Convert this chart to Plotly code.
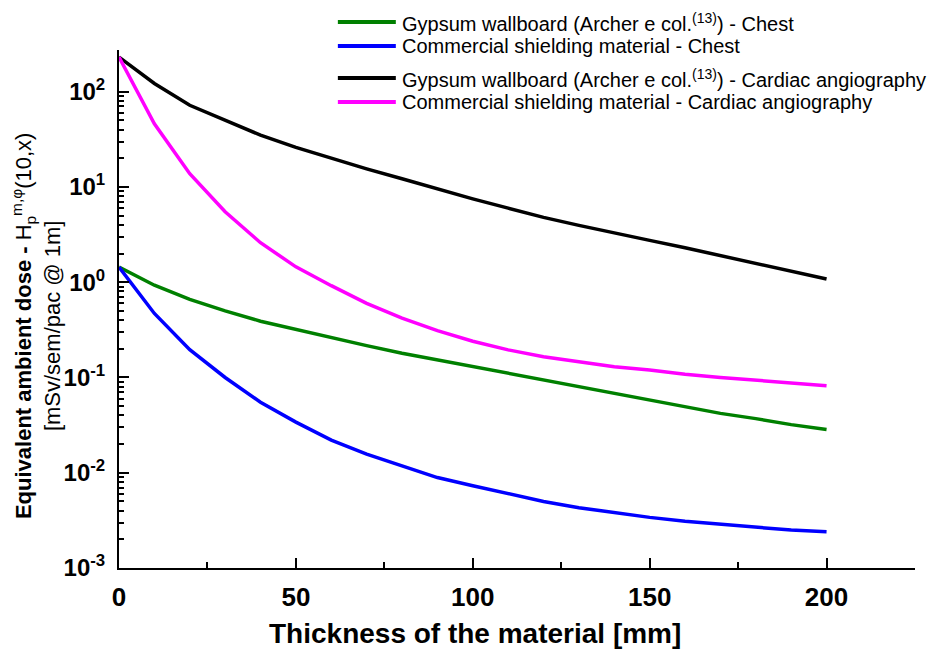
import plotly.graph_objects as go

thickness = [0, 10, 20, 30, 40, 50, 60, 70, 80, 90, 100, 110, 120, 130, 140, 150, 160, 170, 180, 190, 200]

gypsum_chest = [1.44, 0.93, 0.66, 0.50, 0.39, 0.32, 0.26, 0.216, 0.18, 0.153, 0.13, 0.11, 0.094, 0.08, 0.068,
                0.057, 0.049, 0.042, 0.037, 0.032, 0.0285]
commercial_chest = [1.44, 0.47, 0.196, 0.10, 0.055, 0.034, 0.022, 0.0157, 0.0118, 0.0089, 0.0073, 0.006, 0.005,
                    0.0043, 0.0038, 0.0034, 0.0031, 0.0029, 0.0027, 0.0025, 0.0024]
gypsum_cardiac = [231, 122, 72, 50, 35, 26, 20, 15.5, 12.2, 9.5, 7.5, 6.0, 4.8, 3.95, 3.27, 2.75, 2.3, 1.9, 1.58,
                  1.3, 1.08]
commercial_cardiac = [231, 46, 13.8, 5.5, 2.6, 1.45, 0.92, 0.6, 0.42, 0.31, 0.24, 0.195, 0.165, 0.145, 0.13, 0.12,
                      0.108, 0.1, 0.093, 0.087, 0.082]

series_names = [
    "Gypsum wallboard (Archer e col.<sup>(13)</sup>) - Chest",
    "Commercial shielding material - Chest",
    "Gypsum wallboard (Archer e col.<sup>(13)</sup>) - Cardiac angiography",
    "Commercial shielding material - Cardiac angiography",
]
series_values = [gypsum_chest, commercial_chest, gypsum_cardiac, commercial_cardiac]
series_colors = ["#008000", "#0000FF", "#000000", "#FF00FF"]

y_tick_vals = [1e-3, 1e-2, 1e-1, 1e0, 1e1, 1e2]
y_tick_text = ["<b>10<sup>-3</sup></b>", "<b>10<sup>-2</sup></b>", "<b>10<sup>-1</sup></b>",
               "<b>10<sup>0</sup></b>", "<b>10<sup>1</sup></b>", "<b>10<sup>2</sup></b>"]
x_tick_vals = [0, 50, 100, 150, 200]
x_tick_text = ["<b>0</b>", "<b>50</b>", "<b>100</b>", "<b>150</b>", "<b>200</b>"]

FONT = "Arial, Liberation Sans, sans-serif"

fig = go.Figure()
for name, vals, col in zip(series_names, series_values, series_colors):
    fig.add_trace(go.Scatter(x=thickness, y=vals, mode="lines", name=name,
                             line=dict(color=col, width=3.5), showlegend=False))

# pixel -> paper helpers (plot area: x 119..915.5, y 50..568)
L, R, T, B = 119, 915.5, 50, 568
def px(xp):
    return (xp - L) / (R - L)
def py(yp):
    return (B - yp) / (B - T)

# manual legend (matches long line samples of the reference)
legend_rows = [22, 46, 78, 102]
shapes = []
annotations = []
for name, col, row in zip(series_names, series_colors, legend_rows):
    shapes.append(dict(type="line", xref="paper", yref="paper", x0=px(338), x1=px(396),
                       y0=py(row), y1=py(row), line=dict(color=col, width=4)))
    annotations.append(dict(xref="paper", yref="paper", x=px(400), y=py(row), xanchor="left",
                            yanchor="middle", text=name, showarrow=False,
                            font=dict(family=FONT, size=20, color="black")))

annotations.append(dict(xref="paper", yref="paper", x=px(475), y=py(633), xanchor="center", yanchor="middle",
                        text="<b>Thickness of the material [mm]</b>", showarrow=False,
                        font=dict(family=FONT, size=28, color="black")))
annotations.append(dict(xref="paper", yref="paper", x=px(36), y=py(326), xanchor="center", yanchor="middle",
                        textangle=-90, showarrow=False,
                        text="<b>Equivalent ambient dose - </b>H<sub>p</sub><sup>m,φ</sup>(10,x)<br>[mSv/sem/pac @ 1m]",
                        font=dict(family=FONT, size=22, color="black")))

minor_y = [k * 10 ** n for n in range(-3, 2) for k in range(2, 10)]

fig.update_layout(
    width=937, height=652,
    margin=dict(l=L, r=937 - R, t=T, b=652 - B),
    paper_bgcolor="white", plot_bgcolor="white",
    font=dict(family=FONT, color="black"),
    shapes=shapes, annotations=annotations,
    showlegend=False,
)
fig.update_xaxes(range=[0, 225], showline=True, linecolor="black", linewidth=2, showgrid=False, zeroline=False,
                 ticks="inside", ticklen=10, tickwidth=1.5, tickcolor="black",
                 tickvals=x_tick_vals, ticktext=x_tick_text, tickfont=dict(family=FONT, size=26, color="black"),
                 ticklabelstandoff=5,
                 minor=dict(tickvals=[25, 75, 125, 175, 225], ticks="inside", ticklen=6, tickwidth=1.5,
                            tickcolor="black", showgrid=False))
fig.update_yaxes(type="log", range=[-3, 2.438], showline=True, linecolor="black", linewidth=2, showgrid=False,
                 zeroline=False, ticks="inside", ticklen=10, tickwidth=1.5, tickcolor="black",
                 tickvals=y_tick_vals, ticktext=y_tick_text, tickfont=dict(family=FONT, size=24, color="black"),
                 ticklabelstandoff=7,
                 minor=dict(tickvals=minor_y, ticks="inside", ticklen=5, tickwidth=1.5, tickcolor="black",
                            showgrid=False))

fig.write_html("out.html")
